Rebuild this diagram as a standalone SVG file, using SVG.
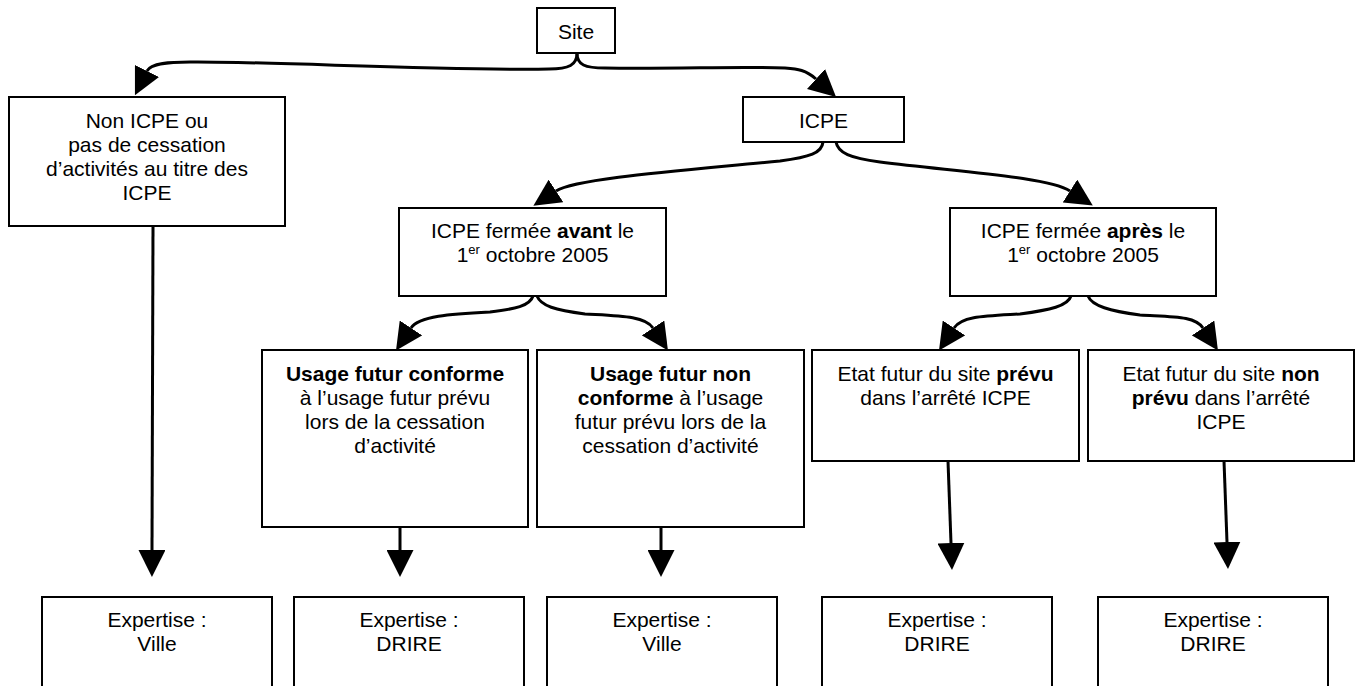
<svg xmlns="http://www.w3.org/2000/svg" width="1359" height="686" viewBox="0 0 1359 686">
<style>
.box{fill:#fff;stroke:#000;stroke-width:2}
.t{font-family:"Liberation Sans",Arial,sans-serif;font-size:21px;fill:#000;text-anchor:middle}
.b{font-weight:bold}
.c{fill:none;stroke:#000;stroke-width:3}
</style>
<defs>
<marker id="ah" markerUnits="userSpaceOnUse" markerWidth="27" markerHeight="27" viewBox="0 0 27 27" refX="0" refY="13.5" orient="auto">
<path d="M0,0 L27,13.5 L0,27 z" fill="#000"/>
</marker>
</defs>
<rect width="1359" height="686" fill="#fff"/>
<g id="connectors">
<path class="c" marker-end="url(#ah)" d="M577,53 C577,65 569,69 549,69 C450,71 260,61 190,62 C170,62 151,63 147,71"/>
<path class="c" marker-end="url(#ah)" d="M577,53 C577,65 585,68 605,68 C680,69 740,66 785,68 C798,69 806,70 816,79"/>
<path class="c" marker-end="url(#ah)" d="M823,142 C822,153 810,157 780,161 C690,170 576,178 556,191"/>
<path class="c" marker-end="url(#ah)" d="M836,142 C838,153 850,158 880,162 C960,172 1048,177 1070,191"/>
<path class="c" marker-end="url(#ah)" d="M533,296 C530,306 515,309 490,312 C450,314 419,316 411,328"/>
<path class="c" marker-end="url(#ah)" d="M537,296 C541,306 555,310 585,314 C620,316 645,316 653,328"/>
<path class="c" marker-end="url(#ah)" d="M1071,296 C1068,306 1050,310 1020,314 C985,316 962,316 954,328"/>
<path class="c" marker-end="url(#ah)" d="M1088,296 C1092,306 1110,311 1140,315 C1175,317 1195,316 1203,328"/>
<path class="c" marker-end="url(#ah)" d="M153,226 L152,550"/>
<path class="c" marker-end="url(#ah)" d="M400,527 L400,550"/>
<path class="c" marker-end="url(#ah)" d="M661,527 L661,550"/>
<path class="c" marker-end="url(#ah)" d="M948,461 L951,543"/>
<path class="c" marker-end="url(#ah)" d="M1224,461 L1227,542"/>
</g>
<g id="site">
<rect class="box" x="537" y="8" width="78" height="45"/>
<text class="t" x="576" y="39">Site</text>
</g>
<g id="non-icpe">
<rect class="box" x="9" y="97" width="276" height="129"/>
<text class="t" x="147" y="128">Non ICPE ou</text>
<text class="t" x="147" y="152">pas de cessation</text>
<text class="t" x="147" y="176">d’activités au titre des</text>
<text class="t" x="147" y="200">ICPE</text>
</g>
<g id="icpe">
<rect class="box" x="743" y="97" width="161" height="45"/>
<text class="t" x="823.5" y="128">ICPE</text>
</g>
<g id="avant">
<rect class="box" x="399" y="208" width="267" height="88"/>
<text class="t" x="532.5" y="238">ICPE fermée <tspan class="b">avant</tspan> le</text>
<text class="t" x="532.5" y="262">1<tspan font-size="13" dy="-8">er</tspan><tspan dy="8"> octobre 2005</tspan></text>
</g>
<g id="apres">
<rect class="box" x="950" y="208" width="266" height="88"/>
<text class="t" x="1083" y="238">ICPE fermée <tspan class="b">après</tspan> le</text>
<text class="t" x="1083" y="262">1<tspan font-size="13" dy="-8">er</tspan><tspan dy="8"> octobre 2005</tspan></text>
</g>
<g id="conforme">
<rect class="box" x="262" y="350" width="266" height="177"/>
<text class="t b" x="395" y="381">Usage futur conforme</text>
<text class="t" x="395" y="405">à l’usage futur prévu</text>
<text class="t" x="395" y="429">lors de la cessation</text>
<text class="t" x="395" y="453">d’activité</text>
</g>
<g id="non-conforme">
<rect class="box" x="537" y="350" width="267" height="177"/>
<text class="t b" x="670.5" y="381">Usage futur non</text>
<text class="t" x="670.5" y="405"><tspan class="b">conforme</tspan> à l’usage</text>
<text class="t" x="670.5" y="429">futur prévu lors de la</text>
<text class="t" x="670.5" y="453">cessation d’activité</text>
</g>
<g id="etat-prevu">
<rect class="box" x="812" y="350" width="267" height="111"/>
<text class="t" x="945.5" y="381">Etat futur du site <tspan class="b">prévu</tspan></text>
<text class="t" x="945.5" y="405">dans l’arrêté ICPE</text>
</g>
<g id="etat-non-prevu">
<rect class="box" x="1088" y="350" width="266" height="111"/>
<text class="t" x="1221" y="381">Etat futur du site <tspan class="b">non</tspan></text>
<text class="t" x="1221" y="405"><tspan class="b">prévu</tspan> dans l’arrêté</text>
<text class="t" x="1221" y="429">ICPE</text>
</g>
<g id="exp-1">
<rect class="box" x="42" y="597" width="230" height="100"/>
<text class="t" x="157" y="627">Expertise :</text>
<text class="t" x="157" y="651">Ville</text>
</g>
<g id="exp-2">
<rect class="box" x="294" y="597" width="230" height="100"/>
<text class="t" x="409" y="627">Expertise :</text>
<text class="t" x="409" y="651">DRIRE</text>
</g>
<g id="exp-3">
<rect class="box" x="547" y="597" width="230" height="100"/>
<text class="t" x="662" y="627">Expertise :</text>
<text class="t" x="662" y="651">Ville</text>
</g>
<g id="exp-4">
<rect class="box" x="822" y="597" width="230" height="100"/>
<text class="t" x="937" y="627">Expertise :</text>
<text class="t" x="937" y="651">DRIRE</text>
</g>
<g id="exp-5">
<rect class="box" x="1098" y="597" width="230" height="100"/>
<text class="t" x="1213" y="627">Expertise :</text>
<text class="t" x="1213" y="651">DRIRE</text>
</g>
</svg>
